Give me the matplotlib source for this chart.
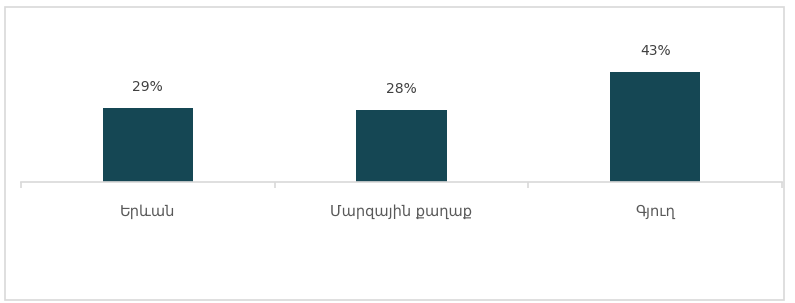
import matplotlib.pyplot as plt
from matplotlib.patches import Rectangle
import numpy as np

categories = ['Երևան', 'Մարզային քաղաք', 'Գյուղ']
values = [0.29, 0.28, 0.43]
labels = ['29%', '28%', '43%']

plt.rcParams['font.family'] = ['DejaVu Sans']

W, H = 795, 303
fig = plt.figure(figsize=(W / 100, H / 100), dpi=100)

# outer chart border
fig.patches.append(Rectangle((5 / W, 1 - 300 / H), 779 / W, 293 / H,
                             transform=fig.transFigure, fill=False,
                             edgecolor='#d9d9d9', linewidth=1.2))

# axes: baseline at y=182 px, 2.56 px per percent
ymax = 0.5
top_px = 182 - ymax * 100 * 2.56
ax = fig.add_axes([21 / W, 1 - 182 / H, 761 / W, (182 - top_px) / H])

x = np.arange(len(categories))
ax.bar(x, values, width=0.355, color='#154754')

for xi, v, lab in zip(x, values, labels):
    ax.annotate(lab, (xi, v), xytext=(0, 10), textcoords='offset points',
                ha='center', va='bottom', fontsize=10, color='#404040')

ax.set_xlim(-0.5, len(categories) - 0.5)
ax.set_ylim(0, ymax)

for s in ['top', 'right', 'left']:
    ax.spines[s].set_visible(False)
ax.spines['bottom'].set_color('#d9d9d9')
ax.spines['bottom'].set_linewidth(1.2)

ax.set_yticks([])
ax.set_xticks(np.arange(-0.5, len(categories)), minor=False)
ax.set_xticklabels([])
ax.tick_params(axis='x', length=4, color='#d9d9d9', width=1.2)
ax.set_xticks(x, minor=True)
ax.set_xticklabels(categories, minor=True, fontsize=10.5, color='#595959')
ax.tick_params(axis='x', which='minor', length=0, pad=16)

fig.savefig('out.png', dpi=100, facecolor='white')
